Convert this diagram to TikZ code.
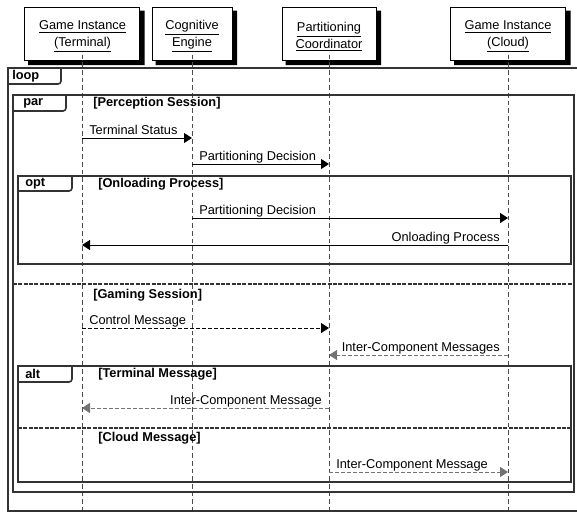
\documentclass[tikz,border=0pt]{standalone}
\usepackage{fontspec}
\setmainfont{Liberation Sans}
\usetikzlibrary{arrows.meta}

\begin{document}
\begin{tikzpicture}[x=0.75pt,y=0.75pt,yscale=-1,xscale=1,
  font=\fontsize{9.6}{12.75}\selectfont,
  actor/.style={draw,line width=0.75pt,fill=white,minimum height=39.75pt,inner sep=0pt},
  actortext/.style={align=center,inner sep=0pt},
  shade/.style={fill=black},
  lifeline/.style={draw=black!70,line width=0.6pt,dash pattern=on 3.5pt off 2.25pt},
  frame/.style={draw=black!80,line width=1.6pt},
  guard/.style={draw=black!80,line width=1.6pt,dash pattern=on 3pt off 1pt},
  kw/.style={font=\fontsize{9.6}{12}\selectfont\bfseries,anchor=west,inner sep=0pt},
  msg/.style={draw,line width=0.75pt,-{Triangle[length=6pt,width=7.5pt]}},
  dmsg/.style={msg,dash pattern=on 3pt off 1.5pt},
  gmsg/.style={msg,draw=black!55,dash pattern=on 3pt off 1.5pt},
  lbl/.style={inner sep=0pt}
]
\useasboundingbox (0,0) rectangle (577,512);

% Participants
\node[actor,minimum width=86.25pt] (term) at (82,33.5) {};
\node[actor,minimum width=60pt] (cog) at (192,33.5) {};
\node[actor,minimum width=70.5pt] (part) at (329,33.5) {};
\node[actor,minimum width=86.25pt] (cloud) at (508,33.5) {};
\foreach \p in {term,cog,part,cloud}
  \fill[shade] ([shift={(0,4)}]\p.north east) -- ([shift={(4.5,4)}]\p.north east)
    -- ([shift={(4.5,4.5)}]\p.south east) -- ([shift={(4,4.5)}]\p.south west)
    -- ([shift={(4,0)}]\p.south west) -- (\p.south east) -- cycle;
\node[actortext] (termtxt) at (82.5,36.5) {\underline{Game Instance}\\\underline{(Terminal)}};
\node[actortext] (cogtxt) at (192,36.5) {\underline{Cognitive}\\\underline{Engine}};
\node[actortext] (parttxt) at (329,36.5) {\underline{Partitioning}\\\underline{Coordinator}};
\node[actortext] (cloudtxt) at (508,36.5) {\underline{Game Instance}\\\underline{(Cloud)}};

% Lifelines
\coordinate (bottom) at (0,512);
\foreach \p in {term,cog,part,cloud}
  \draw[lifeline] ([yshift=-4.5]\p.south) -- (\p.south |- bottom);

% loop frame
\draw[frame] (8,68) rectangle (580,511);
\draw[frame,line width=1.2pt] (8,84) -- (58,84) arc (90:0:3) -- (61,68);
\node[kw] (loopkw) at (12,76) {loop};

% par frame
\draw[frame] (13,95) rectangle (574,492);
\draw[frame,line width=1.2pt] (13,111) -- (63,111) arc (90:0:3) -- (66,95);
\node[kw] (parkw) at (23,103) {par};
\node[kw] (perc) at (93,103.5) {[Perception Session]};

% Perception messages
\coordinate (m1) at (0,138);
\coordinate (m2) at (0,164);
\draw[msg] (term |- m1) -- (cog |- m1);
\node[lbl,anchor=base west] (l1) at (89,134) {Terminal Status};
\draw[msg] (cog |- m2) -- (part |- m2);
\node[lbl,anchor=base west] (l2) at (199,160) {Partitioning Decision};

% opt frame
\draw[frame] (18,176) rectangle (571,264);
\draw[frame,line width=1.2pt] (18,191) -- (69,191) arc (90:0:3) -- (72,176);
\node[kw] (optkw) at (25,184) {opt};
\node[kw] (onl) at (98,184.5) {[Onloading Process]};

\coordinate (m3) at (0,218);
\coordinate (m4) at (0,245);
\draw[msg] (cog |- m3) -- (cloud |- m3);
\node[lbl,anchor=base west] (l3) at (199,214) {Partitioning Decision};
\draw[msg] (cloud |- m4) -- (term |- m4);
\node[lbl,anchor=base east] (l4) at (500,241) {Onloading Process};

% par separator
\draw[guard] (13,284) -- (574,284);
\node[kw] (gam) at (93,295.5) {[Gaming Session]};

\coordinate (m5) at (0,328);
\coordinate (m6) at (0,355);
\draw[dmsg] (term |- m5) -- (part |- m5);
\node[lbl,anchor=base west] (l5) at (89,324) {Control Message};
\draw[gmsg] (cloud |- m6) -- (part |- m6);
\node[lbl,anchor=base east] (l6) at (500,351) {Inter-Component Messages};

% alt frame
\draw[frame] (18,366) rectangle (571,482);
\draw[frame,line width=1.2pt] (18,382) -- (69,382) arc (90:0:3) -- (72,366);
\node[kw] (altkw) at (25,374) {alt};
\node[kw] (tmsg) at (98,374.5) {[Terminal Message]};

\coordinate (m7) at (0,408);
\draw[gmsg] (part |- m7) -- (term |- m7);
\node[lbl,anchor=base east] (l7) at (322,404) {Inter-Component Message};

% alt separator
\draw[guard] (18,428) -- (571,428);
\node[kw] (cmsg) at (98,438.5) {[Cloud Message]};

\coordinate (m8) at (0,472);
\draw[gmsg] (part |- m8) -- (cloud |- m8);
\node[lbl,anchor=base west] (l8) at (336,468) {Inter-Component Message};

\end{tikzpicture}
\end{document}
